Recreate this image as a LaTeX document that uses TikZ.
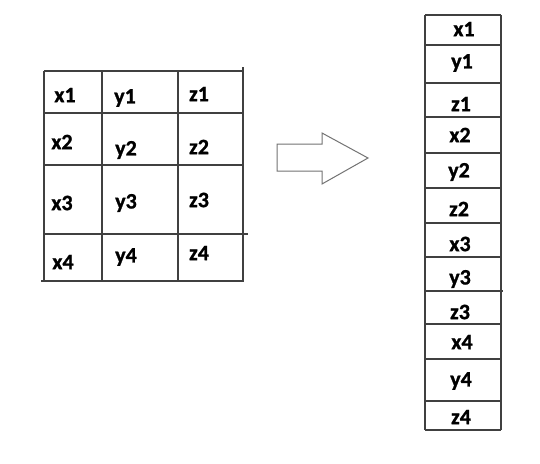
\documentclass[tikz,border=0pt]{standalone}
\usepackage{fontspec}
\setmainfont{Carlito}[BoldFeatures={FakeBold=1}]
\begin{document}
\begin{tikzpicture}[x=1pt,y=-1pt,
  grid/.style={draw=black!75,line width=1.1pt},
  lbl/.style={font=\fontsize{22}{22}\selectfont\bfseries,text=black,inner sep=0pt},
  arrowshape/.style={draw=black!55,line width=1pt,fill=white}]
\useasboundingbox[fill=white] (0,0) rectangle (540,463);
% left table lines
\draw[grid] (44,71) -- (243,71);
\draw[grid] (44,71) -- (44,282);
\draw[grid] (41,281) -- (243,281);
\draw[grid] (102,71) -- (102,281);
\draw[grid] (178,71) -- (178,281);
\draw[grid] (243,67) -- (243,282);
\draw[grid] (44,113) -- (243,113);
\draw[grid] (44,165) -- (243,165);
\draw[grid] (44,234) -- (248,234);
% left table labels
\node[lbl] (lx1) at (65,95) {x1};
\node[lbl] (ly1) at (125,98) {y1};
\node[lbl] (lz1) at (199,94) {z1};
\node[lbl] (lx2) at (62,142) {x2};
\node[lbl] (ly2) at (126,150) {y2};
\node[lbl] (lz2) at (199,147) {z2};
\node[lbl] (lx3) at (62,203) {x3};
\node[lbl] (ly3) at (126,203) {y3};
\node[lbl] (lz3) at (199,200) {z3};
\node[lbl] (lx4) at (63,262) {x4};
\node[lbl] (ly4) at (126,257) {y4};
\node[lbl] (lz4) at (199,253) {z4};
% arrow
\draw[arrowshape] (277,144) -- (322,144) -- (322,133) -- (368,158) -- (322,184) -- (322,171) -- (277,171) -- cycle;
% right column lines
\draw[grid] (425,15) -- (425,430);
\draw[grid] (501,15) -- (501,430);
\draw[grid] (425,15) -- (501,15);
\draw[grid] (425,45) -- (501,45);
\draw[grid] (425,83) -- (501,83);
\draw[grid] (425,117) -- (501,117);
\draw[grid] (424,153) -- (500,153);
\draw[grid] (425,188) -- (501,188);
\draw[grid] (425,223) -- (501,223);
\draw[grid] (425,257) -- (501,257);
\draw[grid] (425,291) -- (503,291);
\draw[grid] (424,324) -- (501,324);
\draw[grid] (425,359) -- (501,359);
\draw[grid] (425,401) -- (501,401);
\draw[grid] (425,430) -- (501,430);
% right column labels
\node[lbl] (rx1) at (464,29) {x1};
\node[lbl] (ry1) at (462,63) {y1};
\node[lbl] (rz1) at (461,104) {z1};
\node[lbl] (rx2) at (460,135) {x2};
\node[lbl] (ry2) at (459,172) {y2};
\node[lbl] (rz2) at (459,209) {z2};
\node[lbl] (rx3) at (460,244) {x3};
\node[lbl] (ry3) at (460,279) {y3};
\node[lbl] (rz3) at (460,312) {z3};
\node[lbl] (rx4) at (462,342) {x4};
\node[lbl] (ry4) at (461,381) {y4};
\node[lbl] (rz4) at (461,417) {z4};
\end{tikzpicture}
\end{document}
